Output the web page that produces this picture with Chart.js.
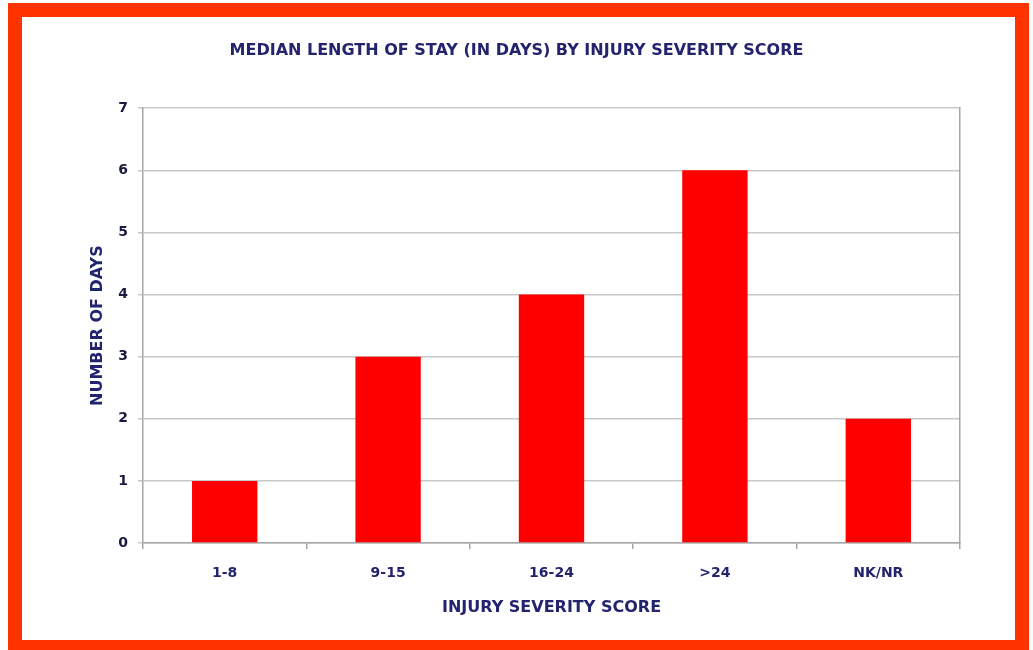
<!DOCTYPE html>
<html>
<head>
<meta charset="utf-8">
<script src="https://cdn.jsdelivr.net/npm/chart.js@4"></script>
<style>
  body { margin: 0; background: #fff; }
  #frame {
    position: absolute; left: 8px; top: 3px; width: 993px; height: 623px;
    border: 14px solid #ff3300; border-bottom-width: 10px;
  }
  #wrap { position: absolute; left: 0; top: 0; width: 1033px; height: 650px; }
</style>
</head>
<body>
<div id="frame"></div>
<div id="wrap"><canvas id="myChart"></canvas></div>
<script>
const categories = ['1-8', '9-15', '16-24', '>24', 'NK/NR'];
const medianDays = [1, 3, 4, 6, 2];
const yTicks = [0, 1, 2, 3, 4, 5, 6, 7];

const navy = '#23236e';
const fontFamily = "'DejaVu Sans', sans-serif";
const frameGrey = '#a6a6a6';

const ctx = document.getElementById('myChart');

new Chart(ctx, {
  type: 'bar',
  data: {
    labels: categories,
    datasets: [{
      label: 'Median length of stay',
      data: medianDays,
      backgroundColor: '#ff0000',
      borderWidth: 0,
      barPercentage: 0.4,
      categoryPercentage: 1.0
    }]
  },
  options: {
    responsive: true,
    maintainAspectRatio: false,
    animation: false,
    layout: { padding: 0 },
    plugins: {
      legend: { display: false },
      tooltip: { enabled: false },
      title: {
        display: true,
        text: 'MEDIAN LENGTH OF STAY (IN DAYS) BY INJURY SEVERITY SCORE',
        color: navy,
        font: { family: fontFamily, size: 16, weight: 'bold' },
        padding: { top: 41, bottom: 48 }
      }
    },
    scales: {
      x: {
        afterFit: s => { s.height = 107; },
        grid: { display: true, offset: true, drawOnChartArea: false, tickLength: 6, color: frameGrey, lineWidth: 1.5 },
        border: { color: frameGrey, width: 1.5 },
        ticks: { color: navy, padding: 16, font: { family: fontFamily, size: 14, weight: 'bold' } },
        title: {
          display: true,
          text: 'INJURY SEVERITY SCORE',
          color: navy,
          font: { family: fontFamily, size: 16, weight: 'bold' },
          padding: { top: 0, bottom: 33 }
        }
      },
      y: {
        min: 0,
        max: 7,
        afterFit: s => { s.width = 143; },
        afterBuildTicks: s => { s.ticks = yTicks.map(v => ({ value: v })); },
        grid: { color: '#c8c8c8', lineWidth: 1.5, tickLength: 5 },
        border: { color: frameGrey, width: 1.5 },
        ticks: { color: '#1a1a40', padding: 10, font: { family: fontFamily, size: 14, weight: 'bold' } },
        title: {
          display: true,
          text: 'NUMBER OF DAYS',
          color: navy,
          font: { family: fontFamily, size: 16, weight: 'bold' },
          padding: { top: 88, bottom: 0 }
        }
      },
      // empty right axis: only its line, closing the plot frame
      yRight: {
        position: 'right',
        min: 0,
        max: 7,
        afterFit: s => { s.width = 73; },
        grid: { drawOnChartArea: false, drawTicks: false },
        border: { color: frameGrey, width: 1.5 },
        ticks: { display: false }
      }
    }
  }
});
</script>
</body>
</html>
